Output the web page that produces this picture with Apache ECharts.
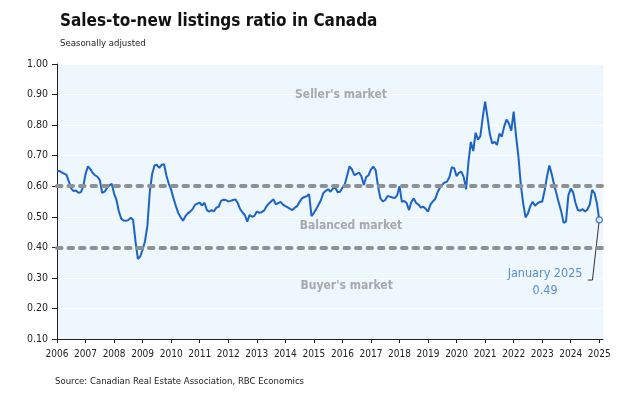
<!DOCTYPE html>
<html>
<head>
<meta charset="utf-8">
<script src="https://cdn.jsdelivr.net/npm/echarts@6/dist/echarts.min.js"></script>
<style>
html,body{margin:0;padding:0;background:#fff;}
#chart{width:624px;height:394px;}
</style>
</head>
<body>
<div id="chart"></div>
<script>
// ---- data ----
const startYear = 2006;            // first month = January 2006, monthly series
const yearTicks = [2006,2007,2008,2009,2010,2011,2012,2013,2014,2015,2016,2017,2018,2019,2020,2021,2022,2023,2024,2025];
const yTicks = [0.1,0.2,0.3,0.4,0.5,0.6,0.7,0.8,0.9,1.0];
const ratio = [
  // 2006
  0.648,0.650,0.645,0.641,0.637,0.615,0.592,0.584,0.586,0.579,0.580,0.598,
  // 2007
  0.640,0.665,0.656,0.643,0.636,0.631,0.620,0.578,0.582,0.594,0.603,0.608,
  // 2008
  0.576,0.555,0.518,0.494,0.488,0.487,0.489,0.497,0.490,0.420,0.362,0.370,
  // 2009
  0.392,0.420,0.470,0.580,0.640,0.668,0.670,0.660,0.670,0.672,0.635,0.608,
  // 2010
  0.588,0.560,0.535,0.512,0.498,0.487,0.502,0.511,0.517,0.525,0.539,0.543,
  // 2011
  0.546,0.537,0.546,0.522,0.517,0.522,0.518,0.530,0.533,0.552,0.556,0.555,
  // 2012
  0.550,0.552,0.555,0.557,0.545,0.525,0.514,0.505,0.484,0.506,0.500,0.503,
  // 2013
  0.517,0.513,0.515,0.520,0.533,0.543,0.550,0.557,0.541,0.545,0.549,0.540,
  // 2014
  0.535,0.531,0.526,0.522,0.530,0.535,0.549,0.560,0.565,0.567,0.574,0.502,
  // 2015
  0.513,0.525,0.540,0.555,0.578,0.585,0.590,0.582,0.593,0.596,0.580,0.582,
  // 2016
  0.595,0.606,0.635,0.665,0.655,0.636,0.640,0.645,0.632,0.604,0.630,0.636,
  // 2017
  0.655,0.664,0.652,0.598,0.560,0.550,0.555,0.568,0.566,0.563,0.561,0.570,
  // 2018
  0.600,0.549,0.552,0.545,0.522,0.549,0.560,0.545,0.540,0.530,0.533,0.526,
  // 2019
  0.517,0.540,0.550,0.558,0.580,0.595,0.605,0.612,0.615,0.630,0.662,0.659,
  // 2020
  0.633,0.644,0.648,0.630,0.590,0.680,0.745,0.715,0.775,0.752,0.764,0.825,
  // 2021
  0.877,0.825,0.770,0.740,0.745,0.735,0.772,0.762,0.795,0.818,0.805,0.782,
  // 2022
  0.844,0.765,0.697,0.605,0.544,0.498,0.511,0.535,0.549,0.536,0.544,0.549,
  // 2023
  0.549,0.585,0.631,0.668,0.640,0.605,0.575,0.545,0.517,0.480,0.484,0.570,
  // 2024
  0.592,0.580,0.545,0.522,0.520,0.525,0.517,0.524,0.540,0.588,0.577,0.544,
  // 2025
  0.490
];
const thresholds = [0.6, 0.4];
const zoneNames = ["Seller's market", "Balanced market", "Buyer's market"];
const lastLabel = ["January 2025", "0.49"];

// ---- build ----
const seriesData = ratio.map((v, i) => [startYear + i / 12, v]);
const last = seriesData[seriesData.length - 1];

const FONT = "'DejaVu Sans Condensed', 'Liberation Sans', sans-serif";
const BLUE = '#1b64c6';

const chart = echarts.init(document.getElementById('chart'), null, {renderer: 'canvas'});
chart.setOption({
  animation: false,
  textStyle: {fontFamily: FONT},
  title: [
    {text: 'Sales-to-new listings ratio in Canada', left: 55, top: 8,
     textStyle: {fontFamily: FONT, fontSize: 17, fontWeight: 'bold', color: '#111'}},
    {text: 'Seasonally adjusted', left: 55, top: 34,
     textStyle: {fontFamily: FONT, fontSize: 9.5, fontWeight: 'normal', color: '#222'}},
    {text: 'Source: Canadian Real Estate Association, RBC Economics', left: 50, top: 372,
     textStyle: {fontFamily: FONT, fontSize: 9.5, fontWeight: 'normal', color: '#222'}}
  ],
  grid: {left: 57, right: 21, top: 64, bottom: 55, show: true, backgroundColor: '#eef6fe', borderWidth: 0},
  xAxis: {
    type: 'value', min: 2006, max: 2025.13, interval: 1,
    axisLine: {show: true, lineStyle: {color: '#222', width: 1}},
    axisTick: {show: true, length: 4, lineStyle: {color: '#222'}, customValues: yearTicks},
    axisLabel: {customValues: yearTicks, formatter: v => String(Math.round(v)),
      fontFamily: FONT, fontSize: 10, color: '#222', margin: 10},
    splitLine: {show: false}
  },
  yAxis: {
    type: 'value', min: 0.1, max: 1.0, interval: 0.1,
    axisLine: {show: true, lineStyle: {color: '#222', width: 1}},
    axisTick: {show: true, length: 5, lineStyle: {color: '#222'}},
    axisLabel: {formatter: v => v.toFixed(2), fontFamily: FONT, fontSize: 10.5, color: '#222', margin: 9},
    splitLine: {show: true, lineStyle: {color: '#ffffff', width: 1.2}}
  },
  series: [
    {
      type: 'line', data: [], z: 1, silent: true,
      markLine: {
        silent: true, symbol: 'none', label: {show: false},
        lineStyle: {color: '#8c9196', width: 4, type: [4.5, 7], cap: 'round'},
        data: thresholds.map(t => ({yAxis: t}))
      },
      markPoint: {
        silent: true, symbol: 'circle', symbolSize: 0,
        label: {show: true, position: 'inside', color: '#a6a9ad', fontFamily: FONT, fontSize: 12, fontWeight: 'bold'},
        data: [
          {coord: [2015.95, 0.898], value: zoneNames[0], label: {formatter: zoneNames[0]}},
          {coord: [2016.3, 0.47], value: zoneNames[1], label: {formatter: zoneNames[1]}},
          {coord: [2016.15, 0.274], value: zoneNames[2], label: {formatter: zoneNames[2]}}
        ]
      }
    },
    {
      name: 'Sales-to-new listings ratio', type: 'line', data: seriesData, z: 3,
      showSymbol: false, symbol: 'none', smooth: false,
      lineStyle: {color: BLUE, width: 2}
    },
    {
      // leader line for the end-point annotation
      type: 'line', z: 4, silent: true, showSymbol: false, symbol: 'none',
      data: [last, [2024.76, 0.293], [2024.6, 0.293]],
      lineStyle: {color: '#333', width: 1}
    },
    {
      type: 'scatter', z: 5, silent: true, data: [last], symbol: 'circle', symbolSize: 6,
      itemStyle: {color: '#ffffff', borderColor: BLUE, borderWidth: 1.3}
    },
    {
      type: 'scatter', z: 5, silent: true, symbolSize: 0,
      data: [[2023.1, 0.285]],
      label: {show: true, position: 'inside', formatter: lastLabel[0] + '\n' + lastLabel[1],
        color: '#2f73c8', fontFamily: FONT, fontSize: 12.5, lineHeight: 17, align: 'center'}
    }
  ]
});
</script>
</body>
</html>
